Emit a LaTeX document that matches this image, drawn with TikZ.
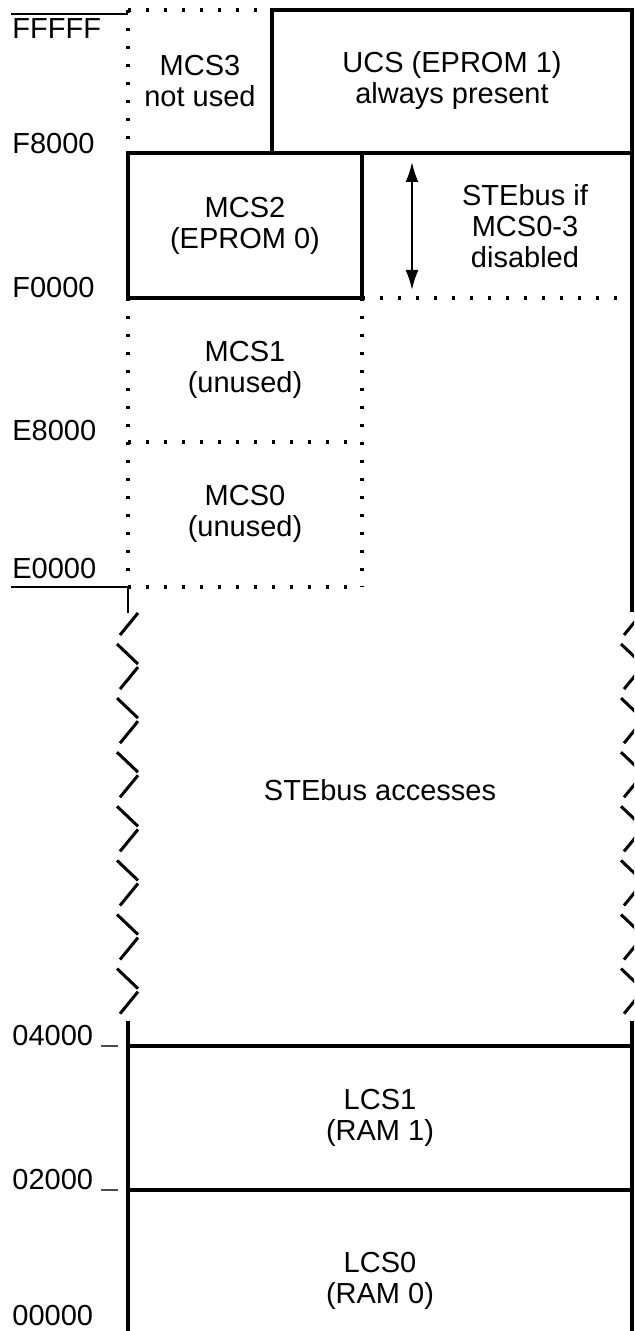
\documentclass[tikz,border=0pt]{standalone}
\usepackage{fontspec}
\setmainfont{Liberation Sans}
\usetikzlibrary{arrows.meta}

\tikzset{
  region/.style={align=center, inner sep=0pt, font=\fontsize{14.5}{15.5}\selectfont},
  addr/.style={anchor=west, inner sep=0pt, font=\fontsize{14.5}{15.5}\selectfont},
  wall/.style={line width=1.6pt},
  dotwall/.style={line width=1.6pt, dash pattern=on 1.6pt off 7.4pt},
  thinwall/.style={line width=1.1pt},
  tick/.style={line width=0.8pt, black!70},
  brk/.style={line width=1.5pt}
}

\begin{document}
\begin{tikzpicture}[x=0.5pt, y=-0.5pt]
    \clip (0,0) rectangle (634,1331);

    % addresses
    \node[addr] (aFFFFF) at (12,29) {FFFFF};
    \node[addr] (aF8000) at (12,144) {F8000};
    \node[addr] (aF0000) at (12,288) {F0000};
    \node[addr] (aE8000) at (12,431) {E8000};
    \node[addr] (aE0000) at (12,569) {E0000};
    \node[addr] (a04000) at (12,1036) {04000};
    \node[addr] (a02000) at (12,1180) {02000};
    \node[addr] (a00000) at (12,1316) {00000};

    % upper block
    \draw[thinwall] (11,14) -- (128,14);
    \draw[dotwall] (128,10) -- (272,10);
    \draw[dotwall] (128,10) -- (128,153);
    \draw[wall] (272,10) rectangle (632,153);
    \draw[wall] (128,153) rectangle (362,298);
    \draw[wall] (632,153) -- (632,612);
    \draw[dotwall] (362,298) -- (632,298);
    \draw[dotwall] (128,298) -- (128,587);
    \draw[dotwall] (362,298) -- (362,587);
    \draw[dotwall] (128,442) -- (362,442);
    \draw[dotwall] (128,587) -- (362,587);
    \draw[thinwall] (11,587) -- (128,587) -- (128,613);

    \node[region] (mcsthree) at (200,81) {MCS3\\not used};
    \node[region] (ucs) at (452,81) {UCS (EPROM 1)\\always present};
    \node[region] (mcstwo) at (245,226) {MCS2\\(EPROM 0)};
    \node[region] (stebusif) at (525,226) {STEbus if\\MCS0-3\\disabled};
    \node[region] (mcsone) at (245,370) {MCS1\\(unused)};
    \node[region] (mcszero) at (245,514) {MCS0\\(unused)};

    \coordinate (arrtop) at (412,162);
    \coordinate (arrbot) at (412,290);
    \draw[line width=1.1pt, {Latex[length=10pt,width=6.5pt]}-{Latex[length=10pt,width=6.5pt]}] (arrtop) -- (arrbot);

    % break in the map
    \foreach \k in {0,...,7} {
        \pgfmathsetmacro\s{613+54.1*\k}
        \draw[brk] (138,\s) -- (120,\s+22);
        \draw[brk] (642,\s) -- (624,\s+22);
    }
    \foreach \k in {0,...,6} {
        \pgfmathsetmacro\s{613+54.1*\k}
        \draw[brk] (117,\s+31) -- (138,\s+51);
        \draw[brk] (621,\s+31) -- (642,\s+51);
    }
    \node[region] (stebus) at (380,790) {STEbus accesses};

    % lower block
    \draw[wall] (128,1021) -- (128,1331);
    \draw[wall] (632,1021) -- (632,1331);
    \draw[wall] (128,1046) -- (632,1046);
    \draw[wall] (128,1190) -- (632,1190);
    \draw[tick] (101,1046) -- (118,1046);
    \draw[tick] (101,1190) -- (118,1190);

    \node[region] (lcsone) at (380,1118) {LCS1\\(RAM 1)};
    \node[region] (lcszero) at (380,1281) {LCS0\\(RAM 0)};
\end{tikzpicture}
\end{document}
